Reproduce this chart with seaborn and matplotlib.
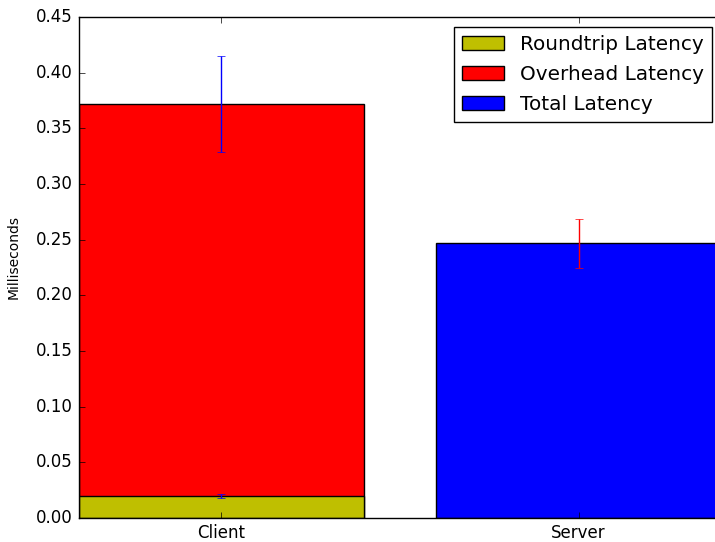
import matplotlib
matplotlib.use("Agg")
import matplotlib.pyplot as plt
import seaborn as sns
import pandas as pd
from matplotlib.patches import Patch

# Latency measurements (milliseconds)
categories = ["Client", "Server"]
roundtrip_client = 0.020
roundtrip_client_err = 0.002
overhead_client = 0.352
total_client_err = 0.043
total_server = 0.247
total_server_err = 0.022

series_labels = ["Roundtrip Latency", "Overhead Latency", "Total Latency"]
series_colors = ["#bfbf00", "#ff0000", "#0000ff"]

plt.style.use("classic")
plt.rcParams["figure.facecolor"] = "white"
plt.rcParams["savefig.facecolor"] = "white"
plt.rcParams["font.family"] = ["DejaVu Sans"]

fig = plt.figure(figsize=(7.15, 5.42), dpi=100)
ax = fig.add_axes([78.5 / 715, 24 / 542, 643 / 715, 501 / 542])

client_total = roundtrip_client + overhead_client

df_client_total = pd.DataFrame({"cat": ["Client"], "ms": [client_total]})
df_client_rt = pd.DataFrame({"cat": ["Client"], "ms": [roundtrip_client]})
df_server = pd.DataFrame({"cat": ["Server"], "ms": [total_server]})

bar_kw = dict(x="cat", y="ms", order=categories, errorbar=None, saturation=1,
              width=0.8, edgecolor="black", linewidth=1, ax=ax)
sns.barplot(data=df_client_total, color=series_colors[1], **bar_kw)
sns.barplot(data=df_client_rt, color=series_colors[0], **bar_kw)
sns.barplot(data=df_server, color=series_colors[2], **bar_kw)

ax.errorbar([0], [roundtrip_client], yerr=[roundtrip_client_err], fmt="none",
            ecolor="blue", capsize=3, elinewidth=1)
ax.errorbar([0], [client_total], yerr=[total_client_err], fmt="none",
            ecolor="blue", capsize=3, elinewidth=1)
ax.errorbar([1], [total_server], yerr=[total_server_err], fmt="none",
            ecolor="red", capsize=3, elinewidth=1)

ax.set_xlim(-0.4, 1.4)
ax.set_ylim(0, 0.45)
ax.set_yticks([i * 0.05 for i in range(10)])
ax.set_yticklabels([f"{i * 0.05:.2f}" for i in range(10)])
ax.set_xlabel("")
ax.set_ylabel("Milliseconds", fontsize=10)
ax.yaxis.set_label_coords(-0.09, 0.52)
ax.tick_params(axis="both", labelsize=12)

handles = [Patch(facecolor=c, edgecolor="black", label=l)
           for c, l in zip(series_colors, series_labels)]
ax.legend(handles=handles, loc="upper right", fontsize=14.4,
          handlelength=2.1, labelspacing=0.56)

fig.savefig("out.png", dpi=100)
